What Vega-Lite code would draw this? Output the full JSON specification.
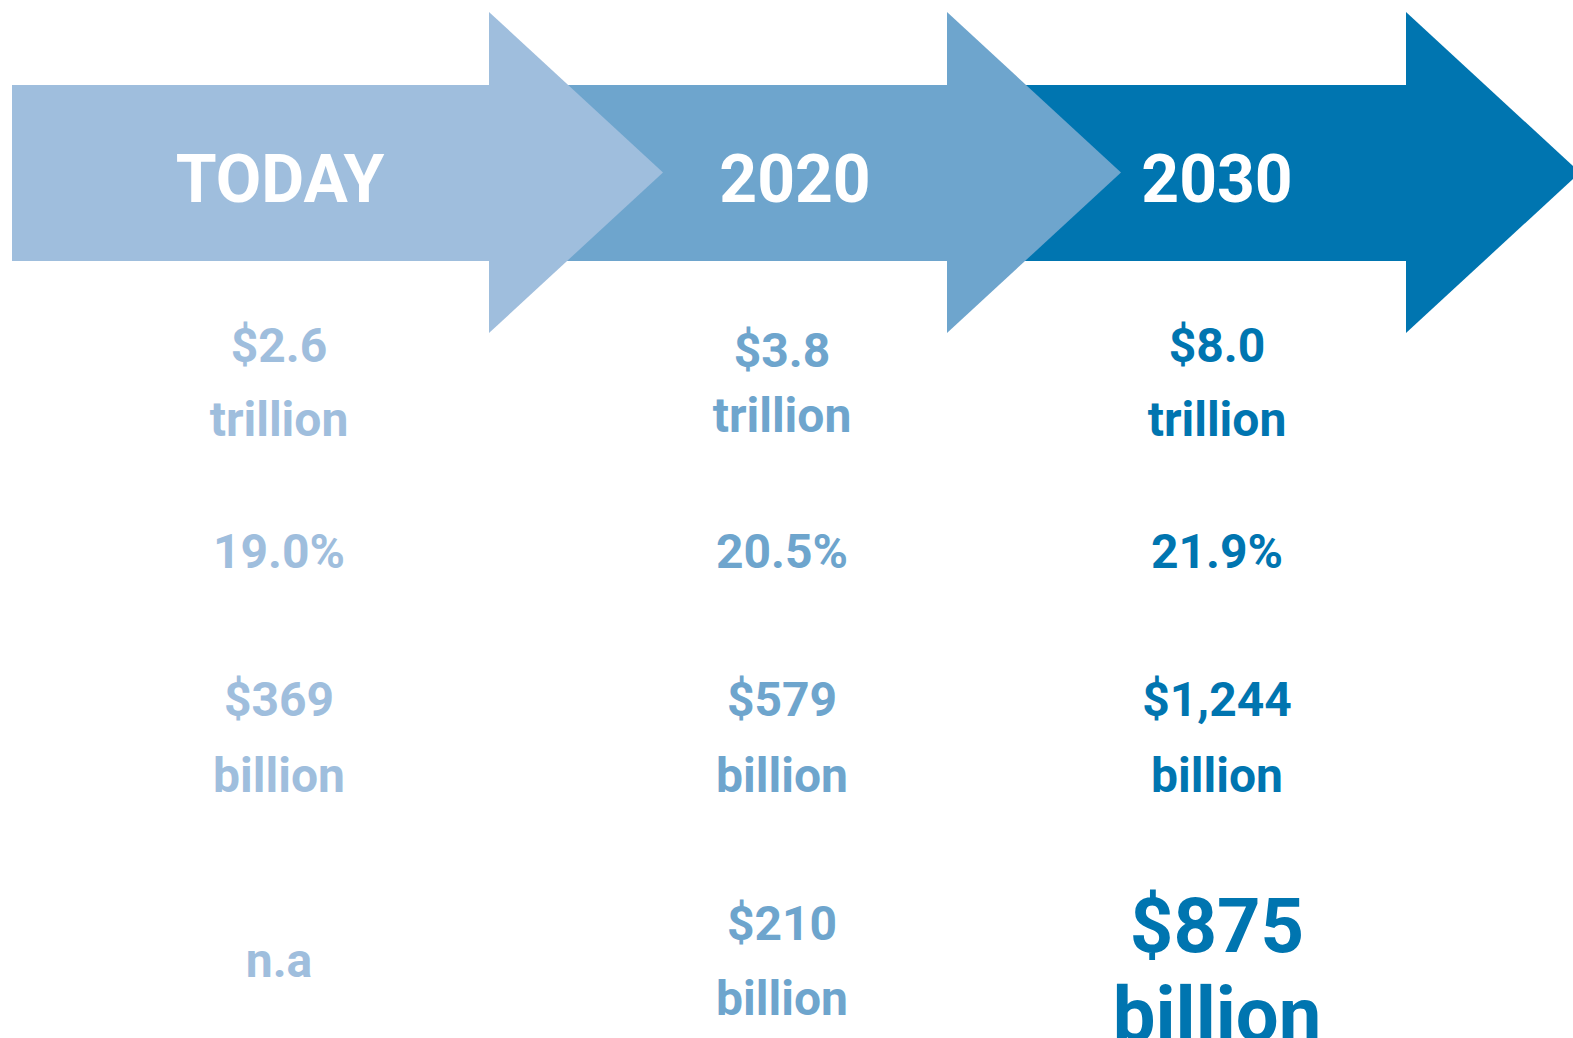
{
  "$schema": "https://vega.github.io/schema/vega-lite/v6.json",
  "width": 1573,
  "height": 1038,
  "autosize": {"type": "none"},
  "padding": 0,
  "background": "white",
  "config": {"view": {"stroke": null}},
  "datasets": {
    "bodies": [
      {"col": "TODAY", "x0": 12, "x1": 490, "top": 85, "bottom": 261},
      {"col": "2020", "x0": 560, "x1": 948, "top": 85, "bottom": 261},
      {"col": "2030", "x0": 1020, "x1": 1408, "top": 85, "bottom": 261}
    ],
    "heads": [
      {"col": "TODAY", "hx": 489, "ht": 12, "hb": 333},
      {"col": "TODAY", "hx": 663, "ht": 172.5, "hb": 172.5},
      {"col": "2020", "hx": 947, "ht": 12, "hb": 333},
      {"col": "2020", "hx": 1121, "ht": 172.5, "hb": 172.5},
      {"col": "2030", "hx": 1406, "ht": 12, "hb": 333},
      {"col": "2030", "hx": 1580, "ht": 172.5, "hb": 172.5}
    ],
    "labels": [
      {"col": "TODAY", "kind": "header", "label": "TODAY", "cx": 280, "by": 202},
      {"col": "2020", "kind": "header", "label": "2020", "cx": 795, "by": 202},
      {"col": "2030", "kind": "header", "label": "2030", "cx": 1217, "by": 202},
      {"col": "TODAY", "kind": "value", "label": "$2.6", "cx": 279, "by": 362},
      {"col": "TODAY", "kind": "value", "label": "trillion", "cx": 279, "by": 436},
      {"col": "TODAY", "kind": "value", "label": "19.0%", "cx": 279, "by": 568},
      {"col": "TODAY", "kind": "value", "label": "$369", "cx": 279, "by": 716},
      {"col": "TODAY", "kind": "value", "label": "billion", "cx": 279, "by": 792},
      {"col": "TODAY", "kind": "value", "label": "n.a", "cx": 279, "by": 977},
      {"col": "2020", "kind": "value", "label": "$3.8", "cx": 782, "by": 367},
      {"col": "2020", "kind": "value", "label": "trillion", "cx": 782, "by": 432},
      {"col": "2020", "kind": "value", "label": "20.5%", "cx": 782, "by": 568},
      {"col": "2020", "kind": "value", "label": "$579", "cx": 782, "by": 716},
      {"col": "2020", "kind": "value", "label": "billion", "cx": 782, "by": 792},
      {"col": "2020", "kind": "value", "label": "$210", "cx": 782, "by": 940},
      {"col": "2020", "kind": "value", "label": "billion", "cx": 782, "by": 1015},
      {"col": "2030", "kind": "value", "label": "$8.0", "cx": 1217, "by": 362},
      {"col": "2030", "kind": "value", "label": "trillion", "cx": 1217, "by": 436},
      {"col": "2030", "kind": "value", "label": "21.9%", "cx": 1217, "by": 568},
      {"col": "2030", "kind": "value", "label": "$1,244", "cx": 1217, "by": 716},
      {"col": "2030", "kind": "value", "label": "billion", "cx": 1217, "by": 792},
      {"col": "2030", "kind": "big", "label": "$875", "cx": 1217, "by": 952},
      {"col": "2030", "kind": "big", "label": "billion", "cx": 1217, "by": 1041}
    ]
  },
  "layer": [
    {
      "data": {"name": "bodies"},
      "mark": {"type": "rect"},
      "encoding": {
        "x": {"field": "x0", "type": "quantitative", "scale": {"domain": [0, 1573], "nice": false, "zero": false}, "axis": null},
        "x2": {"field": "x1"},
        "y": {"field": "top", "type": "quantitative", "scale": {"domain": [0, 1038], "nice": false, "zero": false, "reverse": true}, "axis": null},
        "y2": {"field": "bottom"},
        "color": {"field": "col", "type": "nominal", "scale": {"domain": ["TODAY", "2020", "2030"], "range": ["#9fbedd", "#6ea5cd", "#0075b0"]}, "legend": null}
      }
    },
    {
      "data": {"name": "heads"},
      "mark": {"type": "area", "orient": "vertical", "opacity": 1},
      "encoding": {
        "x": {"field": "hx", "type": "quantitative", "scale": {"domain": [0, 1573], "nice": false, "zero": false}, "axis": null},
        "y": {"field": "ht", "type": "quantitative", "scale": {"domain": [0, 1038], "nice": false, "zero": false, "reverse": true}, "axis": null},
        "y2": {"field": "hb"},
        "color": {"field": "col", "type": "nominal", "scale": {"domain": ["TODAY", "2020", "2030"], "range": ["#9fbedd", "#6ea5cd", "#0075b0"]}, "legend": null}
      }
    },
    {
      "data": {"name": "labels"},
      "transform": [{"filter": "datum.kind === 'header'"}],
      "mark": {"type": "text", "font": "Roboto", "fontWeight": "bold", "fontSize": 66, "align": "center", "baseline": "alphabetic", "color": "white"},
      "encoding": {
        "x": {"field": "cx", "type": "quantitative", "scale": {"domain": [0, 1573], "nice": false, "zero": false}, "axis": null},
        "y": {"field": "by", "type": "quantitative", "scale": {"domain": [0, 1038], "nice": false, "zero": false, "reverse": true}, "axis": null},
        "text": {"field": "label"}
      }
    },
    {
      "data": {"name": "labels"},
      "transform": [{"filter": "datum.kind === 'value'"}],
      "mark": {"type": "text", "font": "Roboto", "fontWeight": "bold", "fontSize": 48, "align": "center", "baseline": "alphabetic"},
      "encoding": {
        "x": {"field": "cx", "type": "quantitative", "scale": {"domain": [0, 1573], "nice": false, "zero": false}, "axis": null},
        "y": {"field": "by", "type": "quantitative", "scale": {"domain": [0, 1038], "nice": false, "zero": false, "reverse": true}, "axis": null},
        "text": {"field": "label"},
        "color": {"field": "col", "type": "nominal", "scale": {"domain": ["TODAY", "2020", "2030"], "range": ["#9fbedd", "#6ea5cd", "#0075b0"]}, "legend": null}
      }
    },
    {
      "data": {"name": "labels"},
      "transform": [{"filter": "datum.kind === 'big'"}],
      "mark": {"type": "text", "font": "Roboto", "fontWeight": "bold", "fontSize": 76, "align": "center", "baseline": "alphabetic"},
      "encoding": {
        "x": {"field": "cx", "type": "quantitative", "scale": {"domain": [0, 1573], "nice": false, "zero": false}, "axis": null},
        "y": {"field": "by", "type": "quantitative", "scale": {"domain": [0, 1038], "nice": false, "zero": false, "reverse": true}, "axis": null},
        "text": {"field": "label"},
        "color": {"field": "col", "type": "nominal", "scale": {"domain": ["TODAY", "2020", "2030"], "range": ["#9fbedd", "#6ea5cd", "#0075b0"]}, "legend": null}
      }
    }
  ]
}
